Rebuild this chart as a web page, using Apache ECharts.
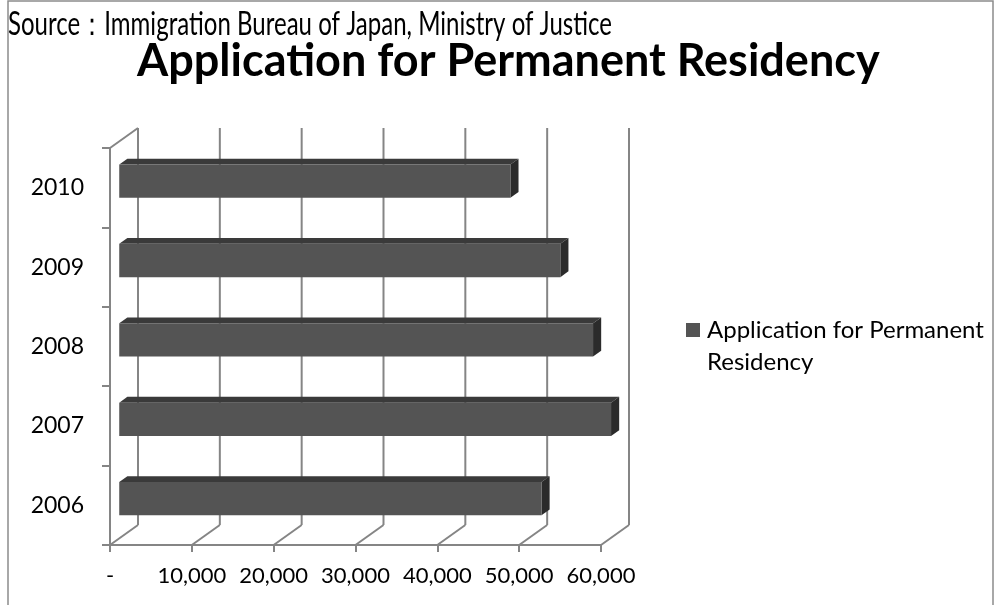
<!DOCTYPE html>
<html>
<head>
<meta charset="utf-8">
<script src="https://cdn.jsdelivr.net/npm/echarts@6/dist/echarts.min.js"></script>
<style>html,body{margin:0;padding:0;background:#fff;}#chart{width:994px;height:605px;}</style>
</head>
<body>
<div id="chart"></div>
<script>
// ---- data ----
const years = ['2006', '2007', '2008', '2009', '2010'];
const applications = [51600, 60100, 57900, 53900, 47800];
const xTicks = [0, 10000, 20000, 30000, 40000, 50000, 60000];
const seriesName = 'Application for Permanent Residency';
const legendLines = 'Application for Permanent\nResidency';
const titleText = 'Application for Permanent Residency';
const sourceText = 'Source\uFF1AImmigration Bureau of Japan, Ministry of Justice';

// ---- 3D look parameters ----
const DX = 28, DY = -20;          // full depth offset (front -> back wall)
const F1 = 0.33, F2 = 0.62;       // bar depth (front face, back face)
const BAR_FRAC = 0.21;            // half bar height as fraction of band
const GRID_COLOR = '#858585';
const BAR_COLOR = '#545454';

// measure source text to condense it like the reference
const mctx = document.createElement('canvas').getContext('2d');
mctx.font = '32px Lato';
const srcW = mctx.measureText(sourceText).width;
const srcScale = 604 / srcW;

const chart = echarts.init(document.getElementById('chart'));

const option = {
  animation: false,
  backgroundColor: '#ffffff',
  title: {
    text: titleText,
    left: 137,
    top: 34,
    padding: [5, 0, 5, 0],
    textStyle: { fontFamily: 'Lato', fontWeight: 'bold', fontSize: 45, color: '#000' }
  },
  grid: { left: 110, top: 148, right: 393, bottom: 60, containLabel: false },
  xAxis: {
    type: 'value',
    min: 0, max: 60000, interval: 10000,
    axisLine: { show: true, lineStyle: { color: GRID_COLOR, width: 2 } },
    axisTick: { show: true, length: 7, lineStyle: { color: GRID_COLOR, width: 2 } },
    splitLine: { show: false },
    axisLabel: {
      margin: 20, fontFamily: 'Lato', fontSize: 22, color: '#000',
      formatter: v => v === 0 ? '-' : v.toLocaleString('en-US')
    }
  },
  yAxis: {
    type: 'category',
    data: years,
    axisLine: { show: true, lineStyle: { color: GRID_COLOR, width: 2 } },
    axisTick: { show: true, length: 8, lineStyle: { color: GRID_COLOR, width: 2 } },
    splitLine: { show: false },
    axisLabel: { margin: 26, fontFamily: 'Lato', fontSize: 23, color: '#000' }
  },
  series: [
    {
      type: 'custom',
      name: 'walls',
      silent: true,
      z: 1,
      data: xTicks.map(v => [v, 0]),
      encode: { x: 0, y: 1 },
      renderItem: function (params, api) {
        const cs = params.coordSys;
        const x = api.coord([api.value(0), 0])[0];
        const bottom = cs.y + cs.height;
        const top = cs.y;
        const style = { stroke: GRID_COLOR, lineWidth: 2, fill: null };
        const children = [
          { type: 'line', shape: { x1: x, y1: bottom, x2: x + DX, y2: bottom + DY }, style: style },
          { type: 'line', shape: { x1: x + DX, y1: bottom + DY, x2: x + DX, y2: top + DY }, style: style }
        ];
        if (api.value(0) === 0) {
          children.push({ type: 'line', shape: { x1: x, y1: top, x2: x + DX, y2: top + DY }, style: style });
        }
        return { type: 'group', children: children };
      }
    },
    {
      type: 'custom',
      name: seriesName,
      z: 3,
      itemStyle: { color: BAR_COLOR },
      data: applications.map((v, i) => [v, i]),
      encode: { x: 0, y: 1 },
      renderItem: function (params, api) {
        const p0 = api.coord([0, api.value(1)]);
        const p1 = api.coord([api.value(0), api.value(1)]);
        const band = api.size([0, 1])[1];
        const h = band * BAR_FRAC;
        const x0 = p0[0] + F1 * DX, x1 = p1[0] + F1 * DX;
        const yc = p0[1] + F1 * DY;
        const yT = yc - h, yB = yc + h;
        const ddx = (F2 - F1) * DX, ddy = (F2 - F1) * DY;
        return {
          type: 'group',
          children: [
            { type: 'polygon', shape: { points: [[x0, yT], [x1, yT], [x1 + ddx, yT + ddy], [x0 + ddx, yT + ddy]] },
              style: { fill: '#3a3a3a' } },
            { type: 'polygon', shape: { points: [[x1, yT], [x1 + ddx, yT + ddy], [x1 + ddx, yB + ddy], [x1, yB]] },
              style: { fill: '#2b2b2b' } },
            { type: 'rect', shape: { x: x0, y: yT, width: x1 - x0, height: yB - yT },
              style: { fill: BAR_COLOR } }
          ]
        };
      }
    }
  ],
  graphic: [
    { type: 'rect', silent: true, z: 0, shape: { x: 8, y: 1, width: 985, height: 640 },
      style: { fill: null, stroke: '#8c8c8c', lineWidth: 1.5 } },
    { type: 'text', x: 8, y: 9, scaleX: srcScale, z: 5,
      style: { text: sourceText, font: '32px Lato', fill: '#000', textVerticalAlign: 'top' } },
    // legend
    { type: 'rect', x: 686, y: 323, z: 5, shape: { x: 0, y: 0, width: 14, height: 14 },
      style: { fill: BAR_COLOR } },
    { type: 'text', x: 707, y: 314, z: 5,
      style: { text: legendLines, font: '24px Lato', fill: '#000', lineHeight: 32, textVerticalAlign: 'top' } }
  ]
};

chart.setOption(option);
</script>
</body>
</html>
